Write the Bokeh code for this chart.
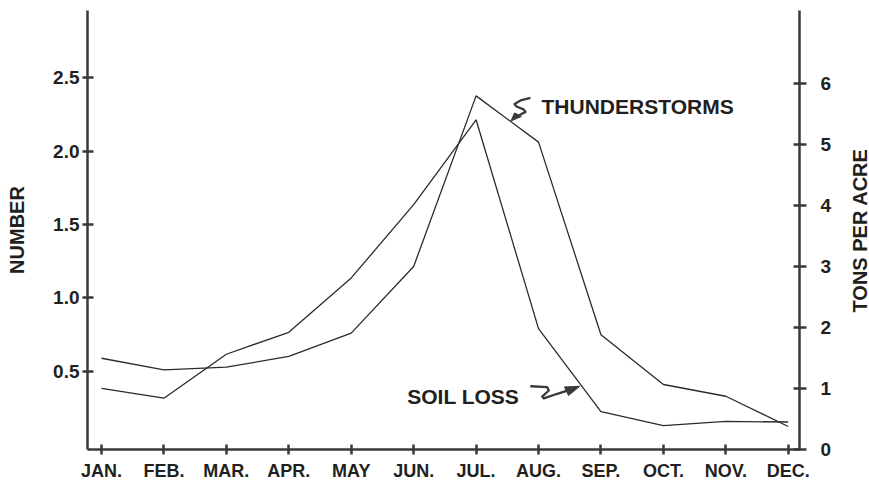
import math
from bokeh.plotting import figure
from bokeh.layouts import row
from bokeh.models import Range1d, LinearAxis, FixedTicker
from bokeh.core.properties import value
from bokeh.embed import file_html
from bokeh.resources import INLINE

# ---- data ----
months = ["JAN.", "FEB.", "MAR.", "APR.", "MAY", "JUN.", "JUL.", "AUG.", "SEP.", "OCT.", "NOV.", "DEC."]
thunderstorms = [0.588, 0.509, 0.527, 0.600, 0.759, 1.213, 2.376, 2.061, 0.748, 0.409, 0.329, 0.123]
soil_loss = [1.00, 0.84, 1.56, 1.92, 2.81, 4.01, 5.40, 1.98, 0.62, 0.39, 0.46, 0.45]
number_ticks = [0.5, 1.0, 1.5, 2.0, 2.5]
number_labels = ["0.5", "1.0", "1.5", "2.0", "2.5"]
tons_ticks = [0, 1, 2, 3, 4, 5, 6]
tons_labels = ["0", "1", "2", "3", "4", "5", "6"]

x = list(range(len(months)))

INK = "#231f20"
AXC = "#3a3a3a"
FONT = "Liberation Sans"

p = figure(width=843, height=483, output_backend="svg", toolbar_location=None,
           x_range=Range1d(-0.224, 11.18), y_range=Range1d(-0.034, 2.958),
           x_axis_location=None, y_axis_location=None,
           min_border_left=87, min_border_right=44, min_border_top=10, min_border_bottom=34)
p.extra_y_ranges = {"tons": Range1d(0, 7.19)}
p.outline_line_color = None
p.background_fill_color = "white"
p.border_fill_color = "white"
for g in p.grid:
    g.visible = False

def style_axis(ax, size):
    ax.axis_line_color = AXC
    ax.axis_line_width = 2.5
    ax.major_tick_line_color = AXC
    ax.major_tick_line_width = 2.5
    ax.minor_tick_line_color = None
    ax.major_label_text_font = FONT
    ax.major_label_text_font_style = "bold"
    ax.major_label_text_font_size = size
    ax.major_label_text_color = INK
    ax.axis_label_text_font = FONT
    ax.axis_label_text_font_style = "bold"
    ax.axis_label_text_font_size = "20px"
    ax.axis_label_text_color = INK

xa = LinearAxis(ticker=FixedTicker(ticks=x),
                major_label_overrides={i: m for i, m in zip(x, months)})
style_axis(xa, "18px")
xa.major_tick_in = 5
xa.major_tick_out = 5
xa.major_label_standoff = 6
p.add_layout(xa, "below")

ya = LinearAxis(ticker=FixedTicker(ticks=number_ticks),
                major_label_overrides={t: l for t, l in zip(number_ticks, number_labels)},
                axis_label="NUMBER")
style_axis(ya, "19px")
ya.major_tick_in = 6
ya.major_tick_out = 5
ya.major_label_standoff = 3
ya.axis_label_standoff = 22
p.add_layout(ya, "left")

ra = LinearAxis(y_range_name="tons", ticker=FixedTicker(ticks=tons_ticks),
                major_label_overrides={t: l for t, l in zip(tons_ticks, tons_labels)})
style_axis(ra, "19px")
ra.major_tick_in = 6
ra.major_tick_out = 7
ra.major_label_standoff = 14
p.add_layout(ra, "right")

# ---- series ----
p.line(x, thunderstorms, line_color="#2b2b2b", line_width=1.3)
p.line(x, soil_loss, y_range_name="tons", line_color="#2b2b2b", line_width=1.3)

# ---- annotations (data units, left scale) ----
p.text(x=[7.048], y=[2.304], text=["THUNDERSTORMS"], text_font=value(FONT),
       text_font_style="bold", text_font_size="21px", text_color=INK,
       text_baseline="alphabetic", text_align="left")
p.text(x=[4.897], y=[0.327], text=["SOIL LOSS"], text_font=value(FONT),
       text_font_style="bold", text_font_size="21px", text_color=INK,
       text_baseline="alphabetic", text_align="left")

thx = [6.856, 6.712, 6.615, 6.647, 6.760, 6.792, 6.696]
thy = [2.361, 2.345, 2.321, 2.304, 2.284, 2.267, 2.246]
p.line(thx, thy, line_color=AXC, line_width=2.3, line_join="round", line_cap="round")
p.patch([6.559, 6.615, 6.727], [2.205, 2.260, 2.236], fill_color=AXC, line_color=AXC, line_width=1)

slx = [6.883, 7.139, 7.165, 7.059, 7.085, 7.288, 7.448]
sly = [0.397, 0.391, 0.368, 0.327, 0.314, 0.344, 0.365]
p.line(slx, sly, line_color=AXC, line_width=2.3, line_join="round", line_cap="round")
p.patch([7.661, 7.416, 7.480], [0.397, 0.392, 0.334], fill_color=AXC, line_color=AXC, line_width=1)

# ---- right axis title (narrow strip so it can read bottom-to-top) ----
q = figure(width=26, height=483, output_backend="svg", toolbar_location=None,
           x_range=Range1d(0, 26), y_range=Range1d(0, 483),
           x_axis_location=None, y_axis_location=None,
           min_border_left=0, min_border_right=0, min_border_top=0, min_border_bottom=0)
q.outline_line_color = None
q.background_fill_color = "white"
q.border_fill_color = "white"
for g in q.grid:
    g.visible = False
q.text(x=[16], y=[241], text=["TONS PER ACRE"], angle=math.pi / 2, text_font=value(FONT),
       text_font_style="bold", text_font_size="20px", text_color=INK,
       text_align="center", text_baseline="middle")

layout = row(p, q, spacing=0)
open("out.html", "w").write(file_html(layout, INLINE))
